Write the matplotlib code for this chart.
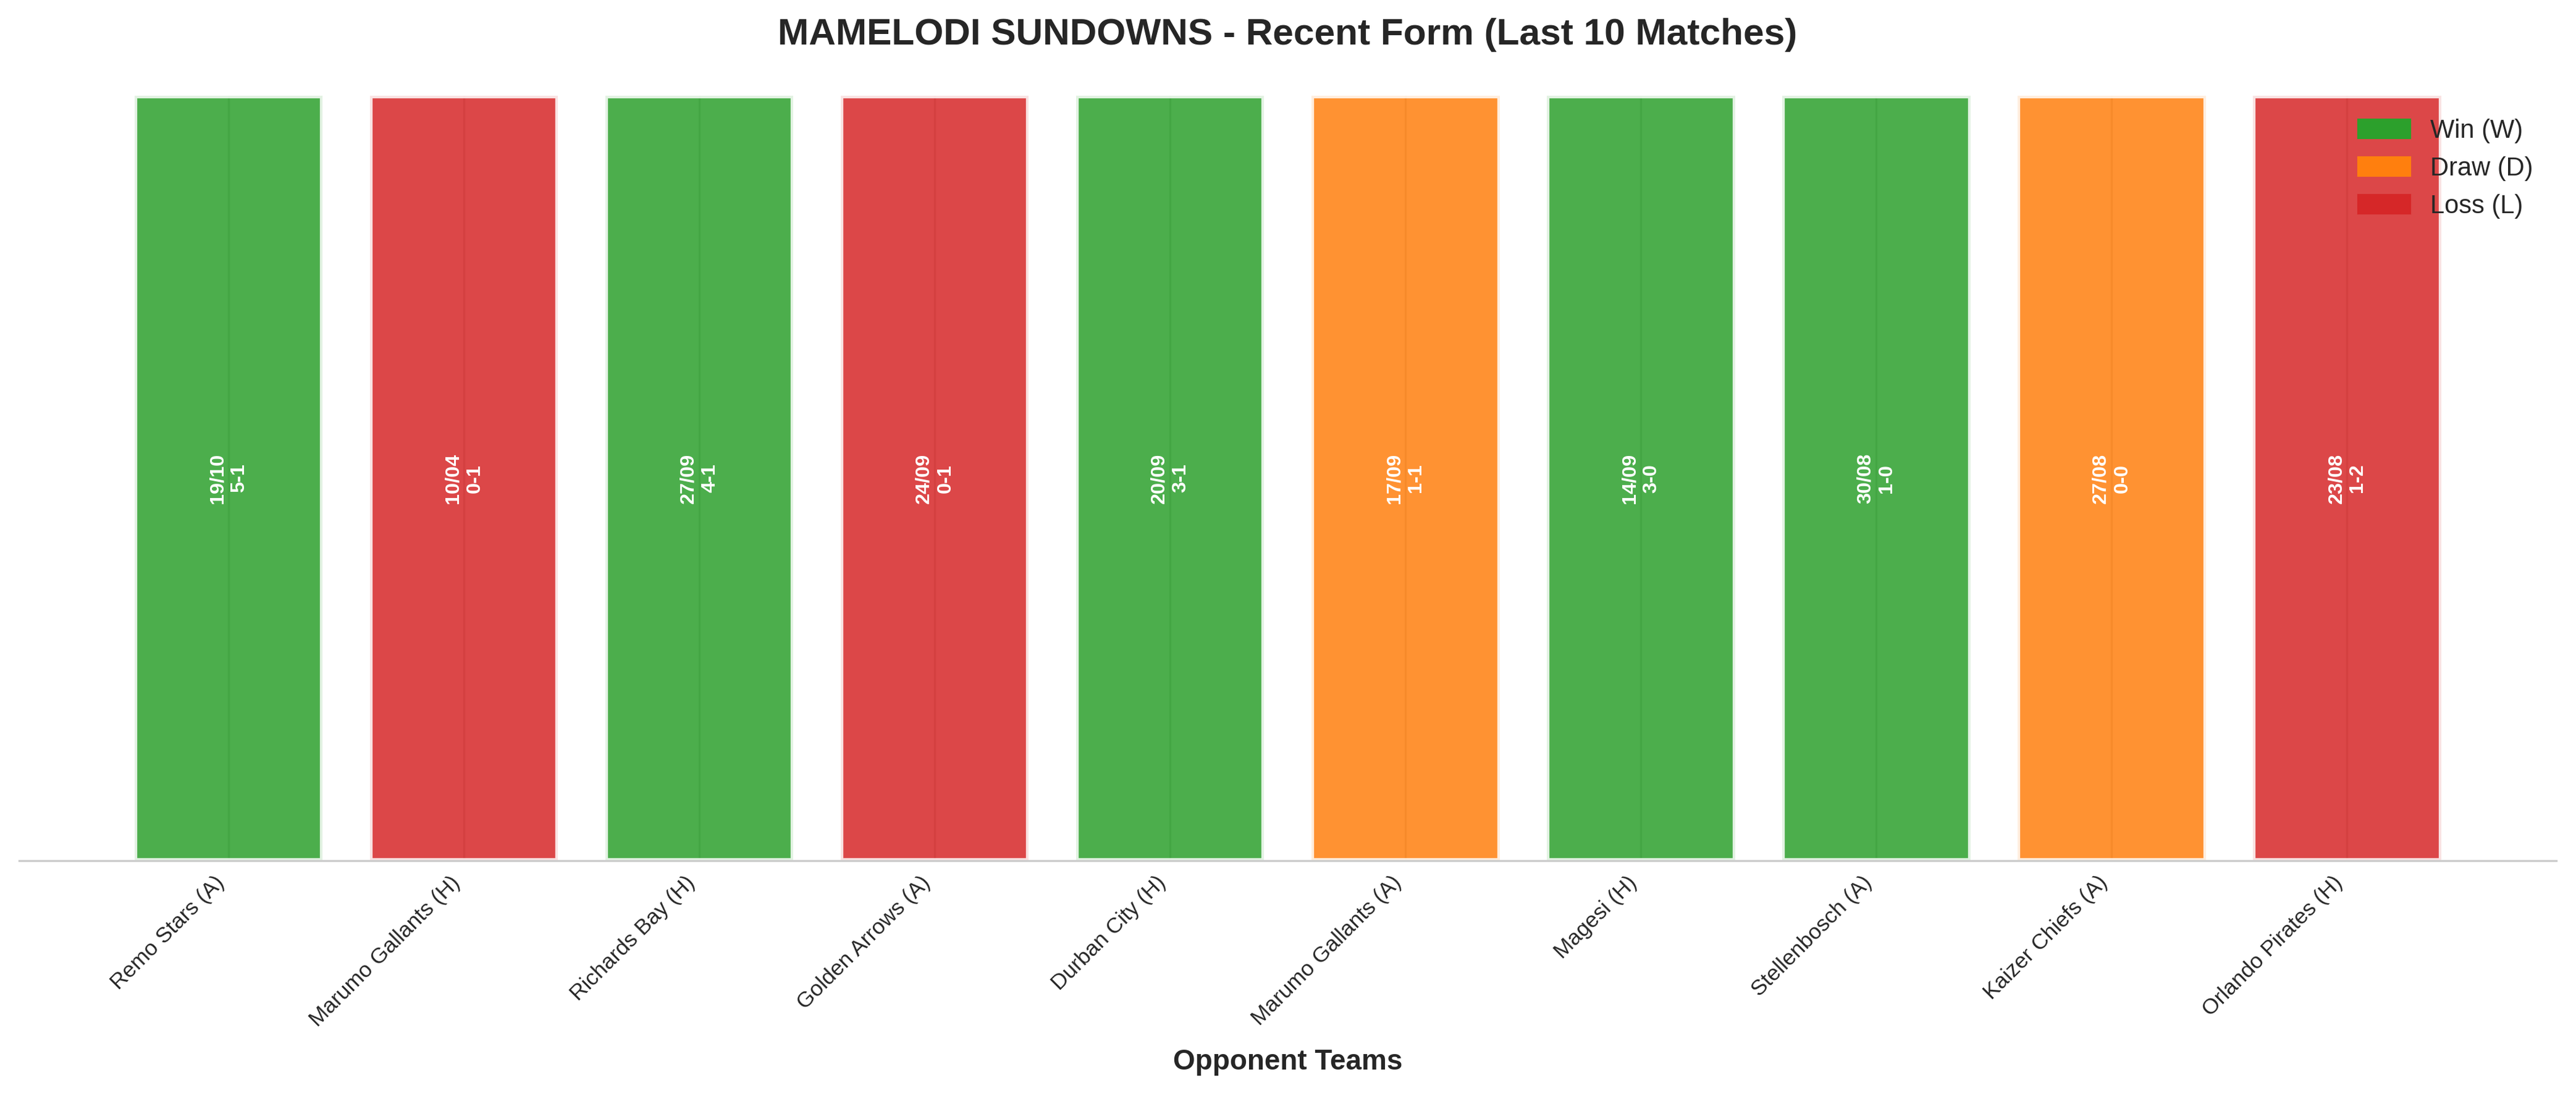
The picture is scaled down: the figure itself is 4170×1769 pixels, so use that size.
import matplotlib
matplotlib.use("Agg")
from matplotlib import pyplot as plt
from matplotlib.patches import Patch
import seaborn as sns

opponents = ["Remo Stars (A)", "Marumo Gallants (H)", "Richards Bay (H)", "Golden Arrows (A)",
             "Durban City (H)", "Marumo Gallants (A)", "Magesi (H)", "Stellenbosch (A)",
             "Kaizer Chiefs (A)", "Orlando Pirates (H)"]
dates = ["19/10", "10/04", "27/09", "24/09", "20/09", "17/09", "14/09", "30/08", "27/08", "23/08"]
scores = ["5-1", "0-1", "4-1", "0-1", "3-1", "1-1", "3-0", "1-0", "0-0", "1-2"]
results = ["W", "L", "W", "L", "W", "D", "W", "W", "D", "L"]

result_colors = {"W": "#2ca02c", "D": "#ff7f0e", "L": "#d62728"}
result_names = {"W": "Win (W)", "D": "Draw (D)", "L": "Loss (L)"}

sns.set_style("whitegrid")
plt.rcParams['font.family'] = ['Liberation Sans', 'DejaVu Sans']

fig = plt.figure(figsize=(13.9, 5.897), dpi=300)
ax = fig.add_axes([0.0074, 0.2125, 0.985, 0.6999])

x = list(range(len(opponents)))
colors = [result_colors[r] for r in results]
bars = ax.bar(x, [1] * len(x), color=colors, alpha=0.85, edgecolor="white", linewidth=2, zorder=2)

# date + score written inside each bar
for i, bar in enumerate(bars):
    ax.text(bar.get_x() + bar.get_width() / 2, 0.5, f"{dates[i]}\n{scores[i]}",
            ha="center", va="center", rotation=90, color="white",
            fontsize=7.8, fontweight="bold", zorder=3)

ax.set_xticks(x)
ax.set_xticklabels(opponents, rotation=45, ha="right", fontsize=8.5)
ax.tick_params(axis="x", length=0, pad=4.5)
ax.set_yticks([])
ax.set_ylim(0, 1)
ax.set_xlabel("Opponent Teams", fontsize=11, fontweight="bold", labelpad=7)
ax.set_title("MAMELODI SUNDOWNS - Recent Form (Last 10 Matches)", fontsize=14.5,
             fontweight="bold", pad=20)
ax.grid(axis="x", zorder=0)
for side in ["left", "top", "right"]:
    ax.spines[side].set_visible(False)

handles = [Patch(color=result_colors[k], label=result_names[k]) for k in ["W", "D", "L"]]
ax.legend(handles=handles, loc="upper right", frameon=False, fontsize=10)

fig.savefig("out.png", dpi=300)
